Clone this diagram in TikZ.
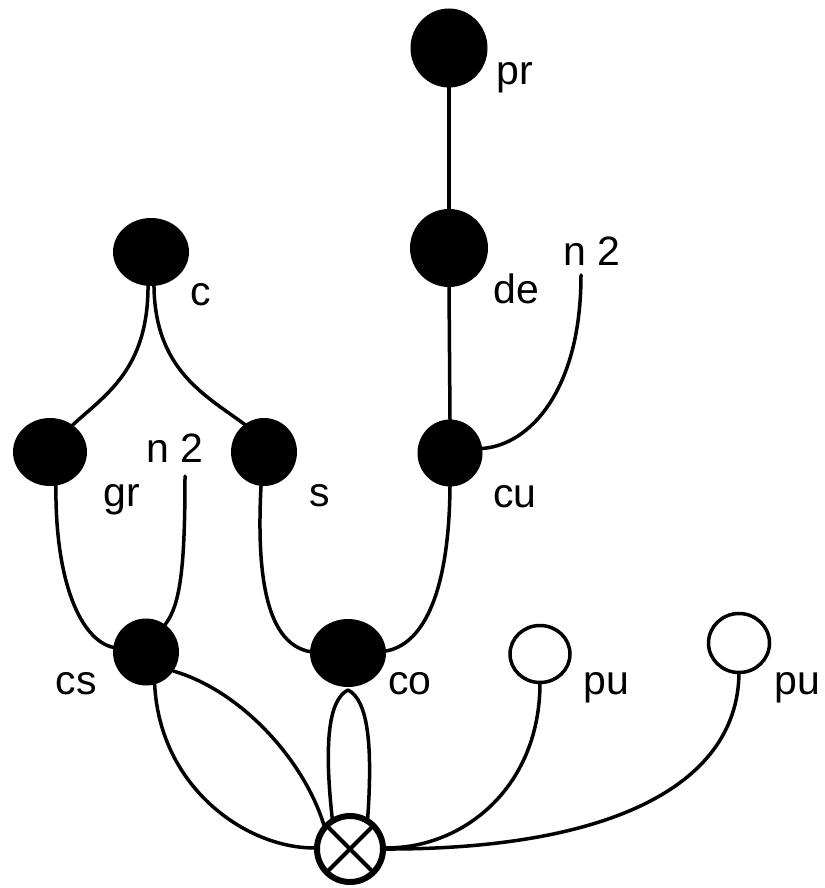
\documentclass[tikz,border=0pt]{standalone}
\usepackage{fontspec}
\setmainfont{Liberation Sans}
\usetikzlibrary{shapes.geometric}
\begin{document}
\begin{tikzpicture}[x=1pt,y=-1pt,
  bnode/.style={ellipse,fill=black,draw=none,inner sep=0pt,outer sep=0pt},
  wnode/.style={ellipse,fill=white,draw=black,line width=3.5pt,inner sep=0pt,outer sep=0pt},
  lbl/.style={anchor=base,inner sep=0pt,font=\fontsize{41}{41}\selectfont},
  edge/.style={line width=3.5pt,line cap=round}]
\useasboundingbox (0,0) rectangle (824,888);
\fill[white] (0,0) rectangle (824,888);
% nodes
\node[bnode,minimum width=77pt,minimum height=79pt] (pr) at (449,48) {};
\node[bnode,minimum width=78pt,minimum height=78pt] (de) at (449,248) {};
\node[bnode,minimum width=76pt,minimum height=68pt] (c) at (151,252) {};
\node[bnode,minimum width=74pt,minimum height=68pt] (gr) at (50,452) {};
\node[bnode,minimum width=66pt,minimum height=68pt] (s) at (264,452) {};
\node[bnode,minimum width=65pt,minimum height=67pt] (cu) at (450,453) {};
\node[bnode,minimum width=66pt,minimum height=67pt] (cs) at (146,652) {};
\node[bnode,minimum width=76pt,minimum height=68pt] (co) at (348,653) {};
\node[wnode,minimum width=60pt,minimum height=57pt] (pu1) at (540,654) {};
\node[wnode,minimum width=61pt,minimum height=59pt] (pu2) at (739,643) {};
\node[circle,draw=black,fill=white,line width=6pt,minimum size=66pt,inner sep=0pt,outer sep=0pt] (ot) at (350,849) {};
\draw[line width=4pt] (ot.45) -- (ot.-135) (ot.135) -- (ot.-45);
% labels
\node[lbl] (lpr) at (515,85) {pr};
\node[lbl] (lde) at (516,303) {de};
\node[lbl] (ln2a) at (592,265) {n 2};
\node[lbl] (lc) at (201,305) {c};
\node[lbl] (lgr) at (122,506) {gr};
\node[lbl] (ln2b) at (175,462) {n 2};
\node[lbl] (ls) at (320,506) {s};
\node[lbl] (lcu) at (515,507) {cu};
\node[lbl] (lcs) at (76,694) {cs};
\node[lbl] (lco) at (410,694) {co};
\node[lbl] (lpu1) at (606,694) {pu};
\node[lbl] (lpu2) at (797,694) {pu};
\coordinate (n2a) at (581,275);
\coordinate (n2b) at (185,476);
\coordinate (cot) at (348,690);
% edges
\draw[edge] (pr.south) -- (de.north);
\draw[edge] (de.south) -- (cu.north);
\draw[edge] (n2a) .. controls (581,390) and (530,445) .. (cu.8);
\draw[edge] (c.-95) .. controls (148,370) and (105,395) .. (gr.50);
\draw[edge] (c.-85) .. controls (155,370) and (205,395) .. (s.125);
\draw[edge] (gr.-80) .. controls (55,580) and (80,640) .. (cs.172);
\draw[edge] (n2b) .. controls (185,570) and (180,605) .. (cs.55);
\draw[edge] (s.-95) .. controls (255,600) and (275,645) .. (co.178);
\draw[edge] (cu.-90) .. controls (449,600) and (420,645) .. (co.3);
\draw[edge] (cs.-75) .. controls (160,790) and (250,850) .. (ot.178);
\draw[edge] (cs.-35) .. controls (240,690) and (305,760) .. (ot.140);
\draw[edge] (cot) .. controls (328,700) and (324,745) .. (ot.122);
\draw[edge] (cot) .. controls (368,700) and (373,745) .. (ot.58);
\draw[edge] (pu1.-90) .. controls (540,790) and (460,850) .. (ot.2);
\draw[edge] (pu2.-90) .. controls (738,790) and (600,850) .. (ot.0);
\end{tikzpicture}
\end{document}
